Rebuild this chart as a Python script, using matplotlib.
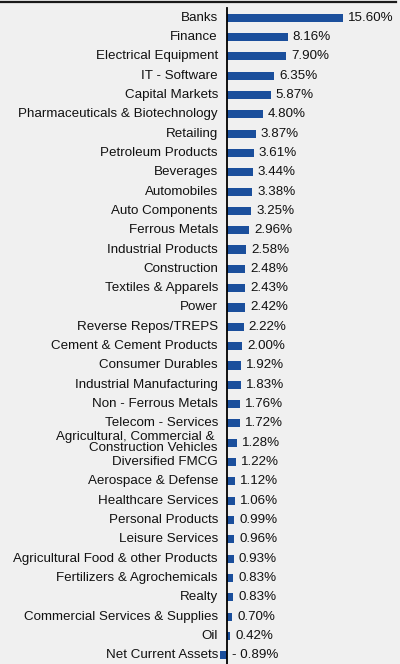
import matplotlib
matplotlib.use("Agg")
import matplotlib.pyplot as plt
from matplotlib.lines import Line2D

plt.rcParams['font.family'] = ['Liberation Sans', 'DejaVu Sans']

sectors = [
    "Banks", "Finance", "Electrical Equipment", "IT - Software", "Capital Markets",
    "Pharmaceuticals & Biotechnology", "Retailing", "Petroleum Products", "Beverages",
    "Automobiles", "Auto Components", "Ferrous Metals", "Industrial Products",
    "Construction", "Textiles & Apparels", "Power", "Reverse Repos/TREPS",
    "Cement & Cement Products", "Consumer Durables", "Industrial Manufacturing",
    "Non - Ferrous Metals", "Telecom - Services",
    "Agricultural, Commercial & \nConstruction Vehicles",
    "Diversified FMCG", "Aerospace & Defense", "Healthcare Services",
    "Personal Products", "Leisure Services", "Agricultural Food & other Products",
    "Fertilizers & Agrochemicals", "Realty", "Commercial Services & Supplies",
    "Oil", "Net Current Assets",
]
weights = [
    15.60, 8.16, 7.90, 6.35, 5.87, 4.80, 3.87, 3.61, 3.44, 3.38, 3.25, 2.96,
    2.58, 2.48, 2.43, 2.42, 2.22, 2.00, 1.92, 1.83, 1.76, 1.72, 1.28, 1.22,
    1.12, 1.06, 0.99, 0.96, 0.93, 0.83, 0.83, 0.70, 0.42, -0.89,
]

bg = '#f0f0f0'
bar_color = '#1b4f9c'
txt = '#111111'

fig = plt.figure(figsize=(4.0, 6.64), dpi=100, facecolor=bg)
ax = fig.add_axes([0, 0, 1, 1])
ax.set_facecolor(bg)

# 7.45 px per percent, zero line at x=227 px; rows 19.32 px apart
ax.set_xlim(-227 / 7.45, (400 - 227) / 7.45)
ax.set_ylim((664 - 17.7) / 19.32, -17.7 / 19.32)
ax.axis('off')

ypos = list(range(len(sectors)))
ax.barh(ypos, weights, height=0.42, color=bar_color, zorder=2)

for y, name, v in zip(ypos, sectors, weights):
    ax.annotate(name, (0, y), xytext=(-9, 0), textcoords='offset pixels',
                ha='right', va='center', fontsize=9.6, color=txt, linespacing=0.9)
    label = "{:.2f}%".format(v) if v >= 0 else "- {:.2f}%".format(-v)
    ax.annotate(label, (max(v, 0), y), xytext=(5, 0), textcoords='offset pixels',
                ha='left', va='center', fontsize=9.6, color=txt)

# zero axis
ax.plot([0, 0], [-0.5, (664 - 17.7) / 19.32], color='black', lw=1.3, zorder=3,
        clip_on=False)

# top rule
fig.add_artist(Line2D([0, 0.99], [1 - 1.8 / 664] * 2, color='#1a1a1a', lw=1.6,
                      transform=fig.transFigure))

fig.savefig('out.png', dpi=100, facecolor=bg)
